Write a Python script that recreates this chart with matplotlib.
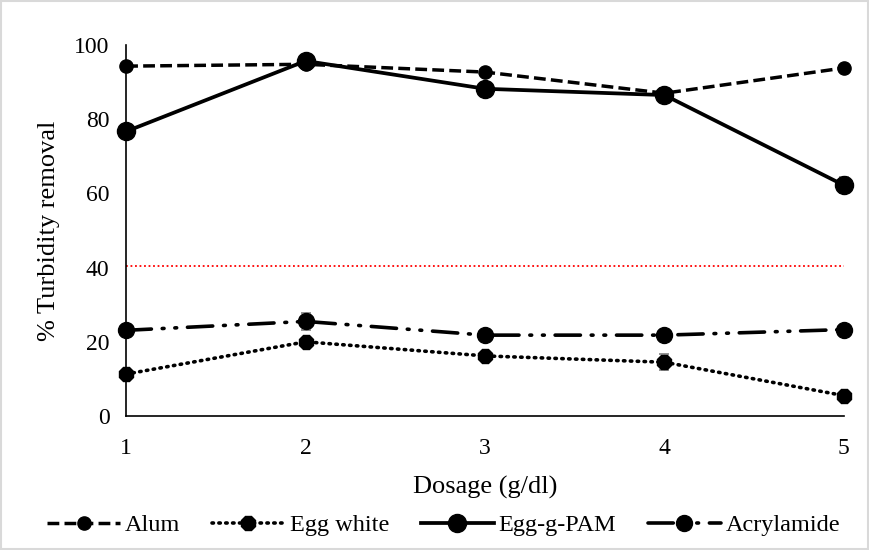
import matplotlib
matplotlib.use("Agg")
import matplotlib.pyplot as plt
from matplotlib.patches import Rectangle
from matplotlib.lines import Line2D

plt.rcParams['font.family'] = ['Liberation Serif', 'DejaVu Serif']

dosage = [1, 2, 3, 4, 5]
alum = [94.3, 94.8, 92.7, 87.0, 93.8]
alum_err = [0.6, 0.8, 0.8, 1.5, 0.8]
egg_white = [11.3, 20.0, 16.2, 14.5, 5.5]
egg_white_err = [0.8, 1.0, 0.8, 2.2, 0.8]
egg_g_pam = [76.7, 95.7, 88.2, 86.5, 62.2]
egg_g_pam_err = [0.8, 1.0, 0.8, 1.2, 2.2]
acrylamide = [23.1, 25.5, 21.8, 21.8, 23.3]
acrylamide_err = [1.0, 2.3, 0.8, 0.8, 0.8]
threshold = 40.5
yticks = [0, 20, 40, 60, 80, 100]
labels = ['Alum', 'Egg white', 'Egg-g-PAM', 'Acrylamide']

fig = plt.figure(figsize=(8.7, 5.5), dpi=100)
fig.patches.append(Rectangle((0.001, 0.001), 0.997, 0.997, transform=fig.transFigure,
                             fill=False, edgecolor='#d9d9d9', linewidth=1.5))
ax = fig.add_axes([0.145, 0.2436, 0.825, 0.6746])

ekw = dict(ecolor='#7f7f7f', elinewidth=1, capsize=3.5, capthick=1.2)

styles = [
    dict(linestyle=(0, (3.4, 1.5)), linewidth=2.5, marker='o', markersize=9.5),
    dict(linestyle=(0, (0.4, 1.5)), dash_capstyle='round', linewidth=2.6, marker='8',
         markersize=11),
    dict(linestyle='-', linewidth=2.7, marker='o', markersize=13),
    dict(linestyle=(0, (7, 3, 0.5, 3, 0.5, 3)), dash_capstyle='round', linewidth=2.6,
         marker='o', markersize=11.5),
]
series = [(alum, alum_err), (egg_white, egg_white_err), (egg_g_pam, egg_g_pam_err),
          (acrylamide, acrylamide_err)]

handles = []
for (vals, errs), st, lab in zip(series, styles, labels):
    ax.errorbar(dosage, vals, yerr=errs, color='black', clip_on=False, zorder=3, **st, **ekw)
    handles.append(Line2D([], [], color='black', **st, label=lab))

ax.plot([dosage[0], dosage[-1]], [threshold, threshold], color='red', linestyle=(0, (1, 1.5)),
        linewidth=1.3, zorder=2)

ax.set_xlim(1, 5)
ax.set_ylim(0, 100)
ax.set_xticks(dosage)
ax.set_yticks(yticks)
ax.tick_params(length=0, labelsize=17)
ax.tick_params(axis='x', pad=16)
ax.tick_params(axis='y', pad=12)
for s in ['top', 'right']:
    ax.spines[s].set_visible(False)
for s in ['left', 'bottom']:
    ax.spines[s].set_linewidth(1.2)
ax.set_xlabel('Dosage (g/dl)', fontsize=19, labelpad=12)
ax.set_ylabel('% Turbidity removal', fontsize=19, labelpad=10)

fig.legend(handles=handles, loc='center', bbox_to_anchor=(0.51, 0.045), ncol=4, frameon=False,
           fontsize=17.5, handlelength=3.0, columnspacing=1.3, handletextpad=0.2)

fig.savefig('out.png', dpi=100)
